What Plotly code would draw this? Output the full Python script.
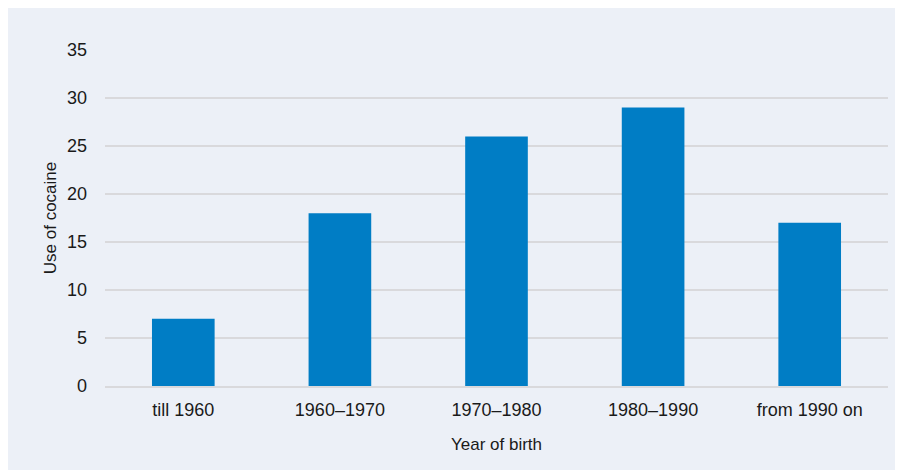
import plotly.graph_objects as go

categories = ["till 1960", "1960–1970", "1970–1980", "1980–1990", "from 1990 on"]
values = [7, 18, 26, 29, 17]
y_ticks = [0, 5, 10, 15, 20, 25, 30, 35]

BG = "#ECF0F7"
BAR = "#007DC5"
GRID = "#D9D9DC"
TXT = "#1a1a1a"
FONT = "Liberation Sans, Arial, sans-serif"

fig = go.Figure(go.Bar(x=categories, y=values, marker=dict(color=BAR, line=dict(width=0)), width=0.4))

fig.update_layout(
    width=903, height=470,
    paper_bgcolor=BG, plot_bgcolor=BG,
    margin=dict(l=97, r=23, t=42, b=92),
    font=dict(family=FONT, size=18, color=TXT),
    showlegend=False,
    bargap=0.6,
)
fig.update_yaxes(range=[0, 35], tickvals=y_ticks, showgrid=True, gridcolor=GRID, gridwidth=1.5,
                 zeroline=False, showline=False, ticks="", ticklabelstandoff=17,
                 title=dict(text="Use of cocaine", standoff=6, font=dict(size=17)))
fig.update_xaxes(showgrid=False, showline=True, linecolor=GRID, linewidth=2, ticks="",
                 ticklabelstandoff=6,
                 title=dict(text="Year of birth", standoff=20, font=dict(size=17)))

fig.write_html("out.html")
